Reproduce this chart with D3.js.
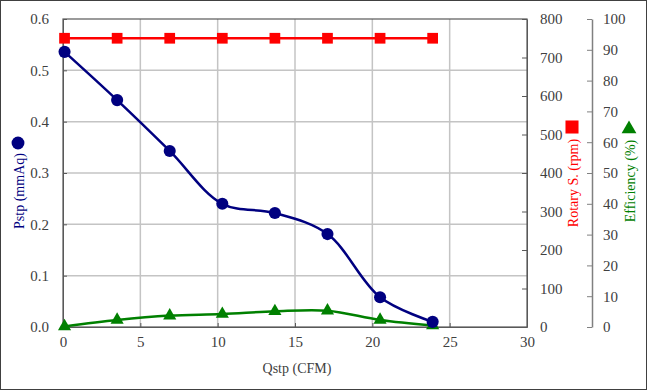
<!DOCTYPE html>
<html>
<head>
<meta charset="utf-8">
<script src="https://cdn.jsdelivr.net/npm/d3@7"></script>
<style>
  body { margin: 0; background: #fff; }
</style>
</head>
<body>
<div id="chart"></div>
<script>
// Data
const qstp = [0.1, 3.5, 6.9, 10.3, 13.7, 17.1, 20.5, 23.9];           // CFM
const pstp = [0.536, 0.442, 0.343, 0.240, 0.222, 0.181, 0.058, 0.010]; // mmAq
const rpm = [750, 750, 750, 750, 750, 750, 750, 750];                   // rpm
const efficiency = [0.2, 2.3, 3.7, 4.2, 5.1, 5.3, 2.3, 0.5];            // %

const xTicks = [0, 5, 10, 15, 20, 25, 30];
const pTicks = [0, 0.1, 0.2, 0.3, 0.4, 0.5, 0.6];
const rTicks = [0, 100, 200, 300, 400, 500, 600, 700, 800];
const eTicks = [0, 10, 20, 30, 40, 50, 60, 70, 80, 90, 100];

const W = 647, H = 390;
const plotLeft = 63, plotTop = 19, plotRight = 527, plotBottom = 327;
const effAxisX = 592;
const serif = "'Liberation Serif', 'Times New Roman', serif";

const svg = d3.select("#chart").append("svg")
    .attr("width", W)
    .attr("height", H)
    .attr("font-family", serif);

// outer frame
svg.append("rect")
    .attr("x", 0.5).attr("y", 0.5)
    .attr("width", W - 1).attr("height", H - 1)
    .attr("fill", "#fff")
    .attr("stroke", "#404040");

const x = d3.scaleLinear().domain([0, 30]).range([plotLeft, plotRight]);
const yP = d3.scaleLinear().domain([0, 0.6]).range([plotBottom, plotTop]);
const yR = d3.scaleLinear().domain([0, 800]).range([plotBottom, plotTop]);
const yE = d3.scaleLinear().domain([0, 100]).range([plotBottom, plotTop]);

// grid lines
svg.append("g")
    .selectAll("line")
    .data(pTicks.slice(1, -1))
    .join("line")
    .attr("x1", plotLeft).attr("x2", plotRight)
    .attr("y1", d => yP(d)).attr("y2", d => yP(d))
    .attr("stroke", "#c4c4c4")
    .attr("stroke-width", 1.5);

svg.append("g")
    .selectAll("line")
    .data(xTicks.slice(1, -1))
    .join("line")
    .attr("x1", d => x(d)).attr("x2", d => x(d))
    .attr("y1", plotTop).attr("y2", plotBottom)
    .attr("stroke", "#c4c4c4")
    .attr("stroke-width", 1.5);

// plot border
svg.append("rect")
    .attr("x", plotLeft).attr("y", plotTop)
    .attr("width", plotRight - plotLeft).attr("height", plotBottom - plotTop)
    .attr("fill", "none")
    .attr("stroke", "#595959")
    .attr("stroke-width", 1.2);

function styleAxis(g, lineColor) {
    g.attr("font-family", serif).attr("font-size", 15);
    g.selectAll("text").attr("fill", "#404040");
    g.selectAll("line").attr("stroke", lineColor);
    g.select(".domain").attr("stroke", lineColor);
}

// axes
svg.append("g")
    .attr("transform", `translate(0,${plotBottom})`)
    .call(d3.axisBottom(x).tickValues(xTicks).tickSizeInner(-4).tickSizeOuter(0).tickPadding(9))
    .call(g => styleAxis(g, "#595959"));

svg.append("g")
    .attr("transform", `translate(${plotLeft},0)`)
    .call(d3.axisLeft(yP).tickValues(pTicks).tickFormat(d3.format(".1f"))
        .tickSizeInner(-4).tickSizeOuter(0).tickPadding(14))
    .call(g => styleAxis(g, "#595959"));

svg.append("g")
    .attr("transform", `translate(${plotRight},0)`)
    .call(d3.axisRight(yR).tickValues(rTicks).tickSizeInner(-5).tickSizeOuter(0).tickPadding(13))
    .call(g => styleAxis(g, "#595959"));

svg.append("g")
    .attr("transform", `translate(${effAxisX},0)`)
    .call(d3.axisRight(yE).tickValues(eTicks).tickSizeInner(-5).tickSizeOuter(0).tickPadding(11))
    .call(g => styleAxis(g, "#808080"))
    .call(g => g.select(".domain").attr("stroke-width", 1.5));

// series
const curve = d3.curveCatmullRom.alpha(0.5);

function drawSeries(values, yScale, color, symbolType, size) {
    const pts = qstp.map((q, i) => [x(q), yScale(values[i])]);
    svg.append("path")
        .datum(pts)
        .attr("fill", "none")
        .attr("stroke", color)
        .attr("stroke-width", 2.5)
        .attr("d", d3.line().curve(curve));
    svg.append("g")
        .selectAll("path")
        .data(pts)
        .join("path")
        .attr("transform", d => `translate(${d[0]},${d[1]})`)
        .attr("d", d3.symbol().type(symbolType).size(size))
        .attr("fill", color);
}

drawSeries(efficiency, yE, "#008000", d3.symbolTriangle, 75);
drawSeries(pstp, yP, "#000080", d3.symbolCircle, 115);
drawSeries(rpm, yR, "#ff0000", d3.symbolSquare, 115);

// axis titles
svg.append("text")
    .attr("x", 297).attr("y", 368)
    .attr("text-anchor", "middle")
    .attr("dominant-baseline", "central")
    .attr("fill", "#404040")
    .attr("font-size", 14)
    .text("Qstp (CFM)");

function sideTitle(cx, cy, label, color, symbolType, symY, symSize) {
    svg.append("text")
        .attr("transform", `translate(${cx},${cy}) rotate(-90)`)
        .attr("text-anchor", "middle")
        .attr("dominant-baseline", "central")
        .attr("fill", color)
        .attr("font-size", 14)
        .text(label);
    svg.append("path")
        .attr("transform", `translate(${cx - 1},${symY})`)
        .attr("d", d3.symbol().type(symbolType).size(symSize))
        .attr("fill", color);
}

sideTitle(19, 191, "Pstp (mmAq)", "#000080", d3.symbolCircle, 143, 130);
sideTitle(573, 183, "Rotary S. (rpm)", "#ff0000", d3.symbolSquare, 127, 170);
sideTitle(630, 181, "Efficiency (%)", "#008000", d3.symbolTriangle, 129, 95);
</script>
</body>
</html>
